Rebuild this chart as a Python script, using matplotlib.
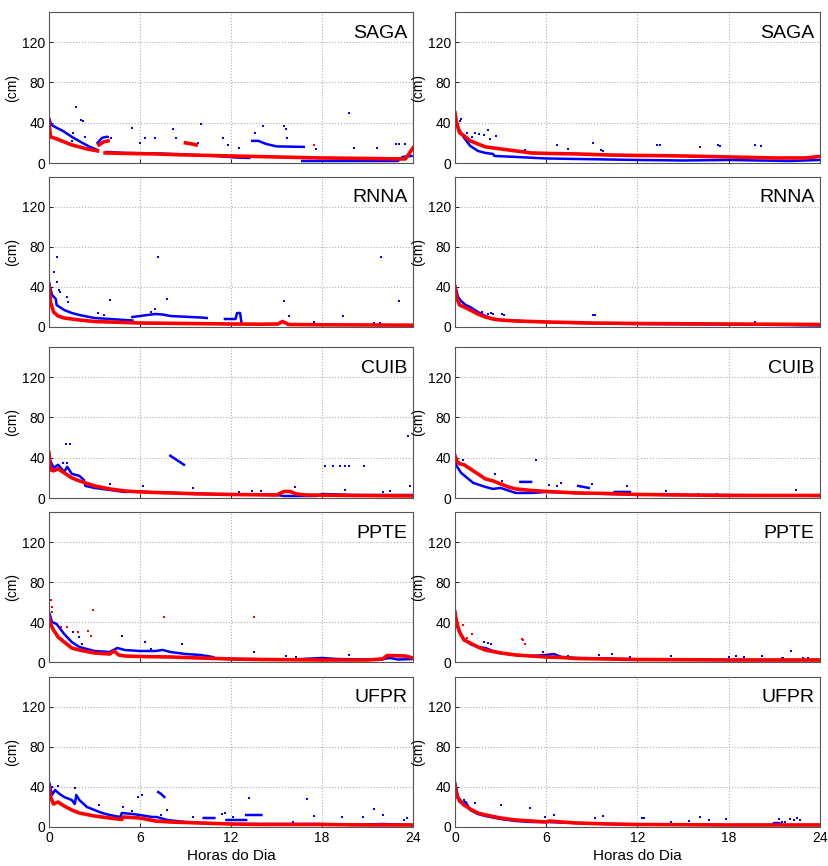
import numpy as np
import matplotlib
matplotlib.use('Agg')
import matplotlib.pyplot as plt

plt.rcParams['font.family'] = ['Liberation Sans', 'DejaVu Sans']

stations = ['SAGA', 'RNNA', 'CUIB', 'PPTE', 'UFPR']
xticks = [0, 6, 12, 18, 24]
yticks = [0, 40, 80, 120]

# (hora, cm); None breaks a trace
# ---- left column ----
saga_l_red = [(0, 40), (0.1, 26), (0.5, 24), (1, 21), (1.5, 18), (2, 16), (2.5, 14), (3.2, 12), None,
              (3.3, 18), (3.6, 21), (3.9, 22), None,
              (3.7, 10), (5, 9.5), (7, 9), (9, 8), (12, 7), (15, 6), (18, 5), (21, 4.5), (23.5, 4), (24, 15), None,
              (9.0, 20), (9.4, 19), (9.7, 18)]
saga_l_blue = [(0, 45), (0.15, 38), (0.5, 35), (0.9, 32), (1.5, 26), (2.2, 20), (2.7, 16), (3.2, 13), None,
               (3.2, 20), (3.5, 25), (3.8, 26), None,
               (3.8, 11), (5, 10), (7, 9.5), (9, 8.5), (11, 7), (12.3, 5.5), (13.2, 5), None,
               (13.4, 22), (13.8, 22), (14.3, 19), (15, 16.5), (16.8, 16), None,
               (16.7, 2), (19, 2), (21, 2), (23, 2), (23.3, 6), (23.9, 7)]
saga_l_redpts = [(0, 70), (0, 55), (17.5, 18)]
saga_l_bluepts = [(0, 55), (1.75, 56), (2.1, 43), (2.25, 42), (1.6, 30), (1.5, 22), (2.4, 26), (3.9, 26),
                  (4.1, 25), (5.5, 35), (6.0, 20), (6.3, 25), (7.0, 25), (8.2, 34), (8.4, 25), (9.8, 20),
                  (10.0, 39), (11.5, 25), (11.8, 18), (12.5, 15), (13.6, 30), (14.1, 37), (15.5, 37),
                  (15.6, 34), (15.7, 25), (17.6, 14), (19.8, 50), (20.1, 15), (21.6, 15), (22.9, 19),
                  (23.1, 19), (23.5, 19)]

rnna_l_red = [(0, 42), (0.1, 25), (0.3, 15), (0.6, 11), (1, 9), (2, 7), (3, 5.5), (4, 5), (6, 4), (9, 3.5),
              (12, 3), (14, 2.8), (15.1, 3), (15.4, 5.5), (15.8, 2.5), (18, 2.2), (21, 2), (24, 1.8)]
rnna_l_blue = [(0, 45), (0.2, 32), (0.45, 28), (0.5, 22), (1, 17), (1.5, 14), (2, 12), (3, 9), (4, 8),
               (5.5, 6.5), None,
               (5.5, 10), (6.5, 12), (7.0, 13), (7.5, 12.5), (8, 11), (10, 9.5), (10.4, 9), None,
               (10.4, 3.3), (11.5, 3.3), None,
               (11.6, 8), (12.3, 8), (12.4, 14), (12.6, 14), (12.7, 3), None]
rnna_l_redpts = [(0, 140), (0, 94), (0, 73), (0, 60)]
rnna_l_bluepts = [(0.5, 70), (0.35, 55), (0.5, 45), (0.65, 37), (0.7, 35), (1.2, 30), (1.25, 25),
                  (3.2, 14), (3.6, 12), (4.0, 27), (6.7, 15), (7.0, 18), (7.2, 70), (7.8, 28),
                  (15.5, 26), (15.8, 11), (17.5, 5), (19.4, 11), (21.4, 4), (21.8, 4), (21.9, 70), (23.1, 26)]

cuib_l_red = [(0, 45), (0.1, 28), (0.3, 27), (0.6, 29), (0.9, 26), (1.5, 20), (2, 17), (3, 12), (4, 9),
              (5, 7), (6, 6), (7, 5.5), (9, 4.5), (12, 3.5), (15, 3), (15.5, 6.5), (15.9, 6.5),
              (16.3, 4), (17, 3), (20, 2.5), (24, 2)]
cuib_l_blue = [(0, 40), (0.3, 30), (0.6, 33), (1, 26), (1.2, 31), (1.5, 24), (2, 22), (2.3, 18), (2.4, 12),
               (3, 10), (4, 8), (5, 6), (6, 6.5), (7, 5.5), (8, 5.5), (9.5, 4), (12, 3.5), (15, 3),
               (15.5, 2), (17.6, 2), (18, 4), (20, 3), (24, 3), None,
               (8.0, 42), (8.4, 38), (8.9, 33)]
cuib_l_redpts = [(0, 100), (0, 70)]
cuib_l_bluepts = [(0, 60), (1.1, 54), (1.4, 54), (0.9, 35), (1.2, 35), (4.0, 14), (6.2, 12), (9.5, 10),
                  (12.5, 6), (13.4, 7), (14.0, 7), (16.2, 11), (18.2, 32), (18.7, 32), (19.2, 32),
                  (19.5, 32), (19.8, 32), (20.8, 32), (19.5, 8), (22.0, 6), (22.5, 7), (23.7, 62), (23.8, 12)]

ppte_l_red = [(0, 45), (0.1, 38), (0.3, 32), (0.6, 25), (1, 20), (1.5, 14), (2, 12), (3, 9), (4, 8),
              (4.3, 11), (4.6, 7), (5, 6), (6, 5.5), (8, 5), (10, 4), (12, 3), (14, 2.5), (18, 2), (21, 2),
              (22, 3), (22.3, 6.5), (23.5, 6), (24, 4)]
ppte_l_blue = [(0, 50), (0.2, 40), (0.5, 38), (1, 28), (1.5, 20), (2, 15), (3, 11), (4, 10), (4.5, 14),
               (5, 12), (6, 11), (7, 11), (7.5, 12), (8, 10), (9, 8), (10, 7), (10.8, 5), (11, 3.5),
               (12, 3), (16, 2.5), (18, 4), (19, 3), (21, 2.5), (22, 3), (22.5, 4), (23, 2.5), (24, 3)]
ppte_l_redpts = [(0, 100), (0, 70), (0.1, 62), (0.2, 55), (0.2, 50), (0.8, 35), (1.2, 35), (1.9, 30),
                 (2.6, 31), (2.8, 26), (2.9, 52), (7.6, 45), (13.5, 45)]
ppte_l_bluepts = [(0, 104), (1.6, 30), (2.0, 25), (2.2, 18), (4.8, 26), (6.3, 20), (6.7, 13), (8.8, 18),
                  (13.5, 10), (15.6, 6), (16.3, 5), (19.8, 7)]

ufpr_l_red = [(0, 40), (0.1, 30), (0.3, 23), (0.6, 25), (1, 21), (1.5, 17), (2, 14), (3, 11), (4, 9),
              (4.8, 7.5), (4.9, 10), (6, 9), (7, 6), (8, 5), (10, 4), (12, 3), (14, 2.5), (18, 2.5),
              (21, 2), (24, 2)]
ufpr_l_blue = [(0, 45), (0.2, 32), (0.4, 37), (0.7, 33), (1, 30), (1.5, 27), (1.7, 23), (1.8, 32),
               (2, 27), (2.5, 20), (3, 17), (3.5, 14), (4, 12), (4.7, 10), (4.8, 14), (5.5, 13), (6, 12),
               (6.8, 10), (7.1, 10), (7.8, 7), (9, 5), (10, 4), (12, 3), (14, 3), (18, 3), (20, 2),
               (22, 3), (24, 2), None,
               (7.2, 35), (7.4, 33), (7.6, 30), None,
               (10.2, 9), (10.9, 9), None, (11.7, 7), (13, 7), None, (13.0, 12), (14.0, 12)]
ufpr_l_redpts = [(0, 97), (0, 65), (0, 48)]
ufpr_l_bluepts = [(0.2, 40), (0.6, 41), (1.7, 39), (3.3, 22), (4.9, 20), (5.5, 16), (5.9, 30), (6.1, 32),
                  (7.4, 12), (7.8, 17), (9.5, 10), (11.4, 13), (11.6, 14), (12.1, 10), (13.2, 29),
                  (16.1, 5), (17.0, 28), (17.5, 11), (19.3, 10), (20.7, 10), (21.4, 18), (22.0, 12),
                  (23.4, 7), (23.6, 9)]

# ---- right column ----
saga_r_red = [(0, 50), (0.1, 40), (0.3, 30), (0.6, 27), (1, 22), (1.5, 19), (2, 16), (3, 14), (4, 12),
              (5, 10), (6, 9.5), (8, 9), (10, 8), (12, 7.5), (15, 7), (18, 6), (21, 5), (23, 5), (24, 6.5)]
saga_r_blue = [(0, 45), (0.2, 35), (0.4, 30), (0.6, 25), (1, 17), (1.5, 12), (2, 10), (2.5, 9), (2.6, 7),
               (4, 6), (6, 4.5), (8, 4), (10, 3.5), (12, 3), (15, 2.5), (18, 3), (20, 2.5), (22, 2),
               (23, 2.5), (24, 3)]
saga_r_redpts = [(0, 65)]
saga_r_bluepts = [(0.3, 42), (0.4, 44), (0.8, 30), (0.9, 22), (1.1, 26), (1.3, 30), (1.6, 29), (1.9, 28),
                  (2.2, 33), (2.3, 24), (2.7, 27), (4.6, 13), (6.7, 18), (7.4, 14), (9.1, 20), (9.6, 13),
                  (9.7, 12), (13.3, 18), (13.5, 18), (16.1, 16), (17.3, 18), (17.4, 17), (19.7, 18), (20.1, 17)]

rnna_r_red = [(0, 40), (0.1, 30), (0.3, 22), (0.6, 20), (1, 17), (1.5, 13), (2, 10), (2.5, 8), (3, 7),
              (4, 6), (6, 5), (9, 4), (12, 3.5), (18, 3), (24, 2.5)]
rnna_r_blue = [(0, 42), (0.2, 30), (0.4, 26), (0.7, 22), (1, 20), (1.5, 15), (2, 11), (2.5, 8), (3, 7),
               (5, 5.5), (8, 4), (12, 3), (18, 2.5), (22, 2), (24, 1.5)]
rnna_r_redpts = [(0, 50)]
rnna_r_bluepts = [(1.8, 15), (2.2, 13), (2.4, 14), (2.5, 13), (3.1, 13), (3.2, 12), (9.1, 12), (9.2, 12),
                  (19.7, 5)]

cuib_r_red = [(0, 42), (0.1, 37), (0.3, 34), (0.6, 33), (1, 29), (1.5, 24), (2, 19), (2.5, 17), (3, 14),
              (3.5, 11), (4, 9), (5, 7.5), (6, 6.5), (8, 5), (10, 4.5), (12, 3.5), (15, 3), (18, 2.5), (24, 2.5)]
cuib_r_blue = [(0, 38), (0.1, 32), (0.4, 25), (0.8, 20), (1.2, 15), (2, 11), (2.5, 9), (3, 10), (4, 5),
               (5, 5), (6, 6), (8, 5), (10, 4), (12, 3.5), (14, 3), (18, 3), (22, 2.5), (24, 2), None,
               (4.3, 16), (5.0, 16), None, (8.1, 12), (8.8, 10), None, (10.5, 6), (11.5, 6)]
cuib_r_redpts = [(0, 103), (0, 85), (0, 72), (0, 60), (0, 50)]
cuib_r_bluepts = [(0.5, 38), (2.6, 24), (3.1, 17), (5.3, 38), (6.2, 13), (6.7, 12), (7.0, 15), (9.0, 14),
                  (11.3, 12), (13.9, 7), (16.0, 4), (17.2, 4), (22.4, 8)]

ppte_r_red = [(0, 50), (0.1, 40), (0.3, 30), (0.6, 22), (1, 19), (1.5, 15), (2, 12), (3, 9), (4, 7),
              (5, 6), (6, 5), (7, 4.5), (8, 3.5), (10, 3), (12, 2.5), (18, 2), (24, 2)]
ppte_r_blue = [(0, 45), (0.2, 33), (0.5, 24), (1, 18), (1.5, 15), (2, 14), (2.5, 11), (3, 9), (4, 7),
               (5, 6), (6, 7), (6.5, 8), (7, 5), (8, 4), (10, 3.5), (12, 2.5), (18, 2), (24, 2)]
ppte_r_redpts = [(0, 68), (0, 58), (0.5, 37), (0.8, 24), (1.1, 28), (4.4, 23), (4.5, 22), (4.6, 18)]
ppte_r_bluepts = [(1.9, 20), (2.2, 19), (2.4, 18), (5.8, 10), (7.4, 6), (9.5, 7), (10.3, 8), (11.5, 5),
                  (14.2, 6), (17.6, 3.5), (18.0, 5), (18.5, 6), (19.0, 5), (20.2, 6), (21.5, 4.5),
                  (21.6, 4), (22.1, 11), (22.9, 4), (23.2, 4)]

ufpr_r_red = [(0, 42), (0.1, 32), (0.3, 26), (0.6, 22), (1, 18), (1.5, 14), (2, 12), (3, 9), (4, 7),
              (5, 6), (6, 5), (6.2, 6), (7, 5), (8, 4), (10, 3), (12, 2.5), (18, 2), (24, 2)]
ufpr_r_blue = [(0, 45), (0.2, 30), (0.5, 24), (0.7, 25), (1, 17), (1.5, 13), (2, 11), (3, 8), (4, 6),
               (5, 5), (6, 5), (8, 4), (12, 2.5), (18, 2), (20.8, 2), (21.0, 4), (21.3, 4), (21.5, 2), (24, 2)]
ufpr_r_redpts = [(0, 92), (0, 75), (0, 60), (0, 48)]
ufpr_r_bluepts = [(0.6, 27), (1.3, 24), (2.3, 12), (2.6, 11), (3.0, 22), (4.9, 19), (5.9, 10), (6.5, 12),
                  (9.2, 9), (9.7, 11), (12.3, 9), (12.4, 9), (14.2, 5), (15.4, 6), (16.1, 10), (16.7, 7),
                  (17.8, 8), (21.3, 8), (21.5, 5), (21.7, 5), (22.0, 8), (22.3, 7), (22.5, 9), (22.7, 7)]

left = [(saga_l_red, saga_l_blue, saga_l_redpts, saga_l_bluepts),
        (rnna_l_red, rnna_l_blue, rnna_l_redpts, rnna_l_bluepts),
        (cuib_l_red, cuib_l_blue, cuib_l_redpts, cuib_l_bluepts),
        (ppte_l_red, ppte_l_blue, ppte_l_redpts, ppte_l_bluepts),
        (ufpr_l_red, ufpr_l_blue, ufpr_l_redpts, ufpr_l_bluepts)]
right = [(saga_r_red, saga_r_blue, saga_r_redpts, saga_r_bluepts),
         (rnna_r_red, rnna_r_blue, rnna_r_redpts, rnna_r_bluepts),
         (cuib_r_red, cuib_r_blue, cuib_r_redpts, cuib_r_bluepts),
         (ppte_r_red, ppte_r_blue, ppte_r_redpts, ppte_r_bluepts),
         (ufpr_r_red, ufpr_r_blue, ufpr_r_redpts, ufpr_r_bluepts)]


def xy(pairs):
    x = [np.nan if p is None else p[0] for p in pairs]
    y = [np.nan if p is None else p[1] for p in pairs]
    return np.array(x, float), np.array(y, float)


W, H = 829, 866
fig = plt.figure(figsize=(W / 100, H / 100), dpi=100)

# pixel boxes of the panels
cols = [(49, 413), (455, 820)]
rows = [(12, 163), (177, 327), (347, 498), (512, 662), (677, 827)]

for c, panels in enumerate([left, right]):
    x0, x1 = cols[c]
    for r, (red, blue, redpts, bluepts) in enumerate(panels):
        top, bot = rows[r]
        ax = fig.add_axes([x0 / W, 1 - bot / H, (x1 - x0) / W, (bot - top) / H])

        bx, by = xy(blue)
        ax.plot(bx, by, '-', color='#0000ff', lw=1.8)
        px, py = xy(bluepts)
        ax.plot(px, py, 's', color='#0000ff', ms=1.8, mew=0)
        rx, ry = xy(red)
        ax.plot(rx, ry, '-', color='#ff0000', lw=2.6)
        px, py = xy(redpts)
        ax.plot(px, py, 's', color='#ff0000', ms=1.8, mew=0)

        ax.set_xlim(0, 24)
        ax.set_ylim(0, 150)
        ax.set_xticks(xticks)
        ax.set_yticks(yticks)
        ax.grid(True, linestyle=':', color='#b0b0b0', lw=0.8)
        ax.tick_params(direction='in', length=3, labelsize=10, pad=3, width=0.6)
        for s in ax.spines.values():
            s.set_color('#555555')
            s.set_linewidth(0.8)
        ax.set_ylabel('(cm)', fontsize=10)
        ax.yaxis.set_label_coords(-30 / (x1 - x0), 0.5)
        ax.text(0.985, 0.86, stations[r], transform=ax.transAxes, ha='right', va='center', fontsize=14)
        if r < 4:
            ax.set_xticklabels([])
        else:
            ax.set_xlabel('Horas do Dia', fontsize=11, labelpad=3)

fig.savefig('out.png', dpi=100)
